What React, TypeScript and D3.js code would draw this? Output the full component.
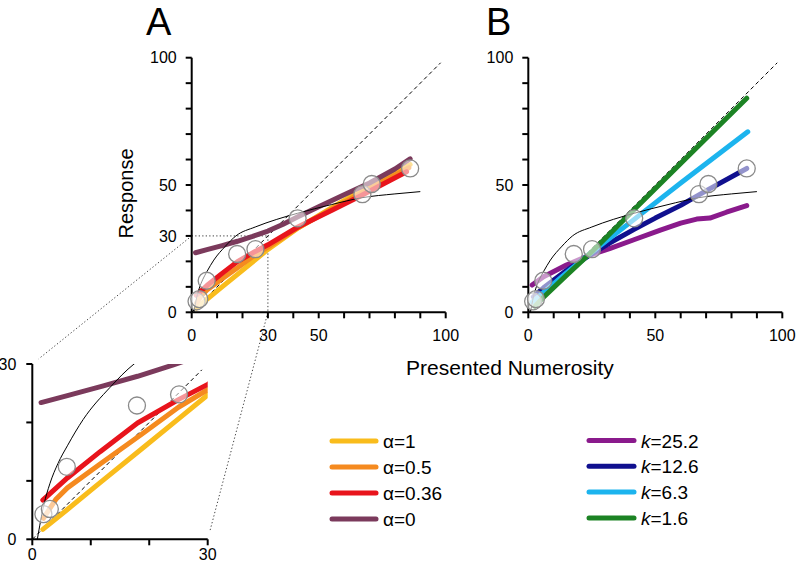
import React from 'react';
import * as d3 from 'd3';

// ---------- data ----------
const circleX = [1.9, 3.0, 5.9, 17.9, 25.1, 41.7, 67.2, 70.9, 86];
const circleY = [4.3, 5.2, 12.4, 22.9, 24.8, 36.9, 46.4, 50.4, 56.5];

const curveX = [0.86, 2, 3, 4.4, 6, 8.7, 13.3, 17.4, 25, 33.5, 41.7, 55, 67, 80, 90];
const curveY = [0, 6, 9.5, 13, 16, 20.5, 26, 30, 33.5, 36.5, 38.9, 42.3, 45, 46.5, 47.4];

const alpha1X = [1.8, 6, 11.6, 19, 25, 30, 42, 55, 67, 75, 86];
const alpha1Y = [1.7, 5.1, 9.7, 15.7, 20.6, 24.7, 33.2, 41, 48, 52.3, 58];
const alpha05X = [1.9, 4, 6, 11.6, 19, 25, 30, 42, 55, 67, 75, 85.5];
const alpha05Y = [3.6, 6.8, 8.8, 12.9, 18.2, 22.6, 25.6, 33.3, 40.5, 47, 51.2, 56.8];
const alpha036X = [1.8, 6, 11.6, 18, 25, 30, 42, 55, 67, 75, 84.6];
const alpha036Y = [6.7, 10.5, 15, 19.9, 23.9, 26.5, 33.6, 40, 46, 50.2, 55.2];
const alpha0X = [1.5, 6, 12, 18, 24, 30, 36, 42, 50, 60, 70, 80, 86];
const alpha0Y = [23.4, 24.6, 26.2, 27.9, 29.8, 31.9, 34.6, 37.6, 41.5, 46.2, 50.8, 56.3, 60.3];

const k252X = [1.5, 6, 15, 24.3, 32, 41.3, 52, 60, 66.3, 71.5, 78, 86];
const k252Y = [10.7, 14, 18.6, 22.5, 25, 28.4, 32.3, 35, 36.6, 37, 39.3, 41.9];
const k126X = [2, 6, 15, 24.3, 32, 41.3, 50, 60, 67, 71, 86];
const k126Y = [6.1, 9.6, 16.4, 22.5, 27.2, 32.4, 37, 42, 46, 48.3, 56.5];
const k63X = [1.5, 6, 15, 24.3, 41.3, 60, 86.4];
const k63Y = [4, 7.8, 15.5, 23.1, 36.2, 50.8, 70.9];
const k16X = [2.6, 6, 15, 24.3, 41.3, 60, 86];
const k16Y = [2.4, 5.9, 14.5, 23.1, 40, 58.5, 84.1];

const alphaLabels = ['1', '0.5', '0.36', '0'];
const alphaColors = ['#F9BC1C', '#F58A1F', '#E8141C', '#7B3A5C'];
const kLabels = ['25.2', '12.6', '6.3', '1.6'];
const kColors = ['#8A1A8C', '#10108F', '#1CB4EE', '#1C8324'];

const ticksMain = [0, 10, 20, 30, 40, 50, 60, 70, 80, 90, 100];
const labelsAY = [0, 30, 50, 100];
const labelsAX = [0, 30, 50, 100];
const labelsB = [0, 50, 100];
const ticksInset = [0, 10, 20, 30];
const labelsInset = [0, 30];

const FONT = "'Liberation Sans', Arial, Helvetica, sans-serif";

const zip = (xs: number[], ys: number[]) => xs.map((x, i) => [x, ys[i]] as [number, number]);

const alphaSeries = [
  zip(alpha1X, alpha1Y),
  zip(alpha05X, alpha05Y),
  zip(alpha036X, alpha036Y),
  zip(alpha0X, alpha0Y),
];
const kSeries = [
  zip(k252X, k252Y),
  zip(k126X, k126Y),
  zip(k63X, k63Y),
  zip(k16X, k16Y),
];
const curvePts = zip(curveX, curveY);
const circles = zip(circleX, circleY);

// ---------- scales ----------
const xA = d3.scaleLinear().domain([0, 100]).range([191.7, 445.7]);
const xB = d3.scaleLinear().domain([0, 100]).range([528.3, 782.3]);
const yM = d3.scaleLinear().domain([0, 100]).range([312.3, 57.7]);
const xI = d3.scaleLinear().domain([0, 30]).range([32.3, 207.7]);
const yI = d3.scaleLinear().domain([0, 30]).range([539.3, 364]);

type Sc = d3.ScaleLinear<number, number>;

function mkLine(x: Sc, y: Sc, smooth: boolean) {
  return d3
    .line<[number, number]>()
    .x((d) => x(d[0]))
    .y((d) => y(d[1]))
    .curve(smooth ? d3.curveMonotoneX : d3.curveLinear);
}

function Axes({ x, y, ticks, labX, labY, labBase, labGap, xmax }: any) {
  const x0 = x(0);
  const y0 = y(0);
  return (
    <g fontFamily={FONT} fontSize={16} fill="#000">
      <line x1={x0} x2={x0} y1={y0} y2={y(xmax)} stroke="#000" strokeWidth={2} />
      <line x1={x0} x2={x(xmax)} y1={y0} y2={y0} stroke="#000" strokeWidth={2} />
      {ticks.map((t: number) => (
        <line key={'tx' + t} x1={x(t)} x2={x(t)} y1={y0} y2={y0 + 6} stroke="#000" strokeWidth={2} />
      ))}
      {ticks.map((t: number) => (
        <line key={'ty' + t} x1={x0 - 6} x2={x0} y1={y(t)} y2={y(t)} stroke="#000" strokeWidth={2} />
      ))}
      {labX.map((t: number) => (
        <text key={'lx' + t} x={x(t)} y={labBase} textAnchor="middle">
          {t}
        </text>
      ))}
      {labY.map((t: number) => (
        <text key={'ly' + t} x={x0 - labGap} y={y(t) + 5.7} textAnchor="end">
          {t}
        </text>
      ))}
    </g>
  );
}

function Circles({ x, y, pts }: any) {
  return (
    <g>
      {pts.map((d: [number, number], i: number) => (
        <circle
          key={i}
          cx={x(d[0])}
          cy={y(d[1])}
          r={8.5}
          fill="rgba(255,255,255,0.55)"
          stroke="#8a8a8a"
          strokeWidth={1.3}
        />
      ))}
    </g>
  );
}

export default function App() {
  const lA = mkLine(xA, yM, false);
  const lB = mkLine(xB, yM, false);
  const lI = mkLine(xI, yI, false);
  const cA = mkLine(xA, yM, true);
  const cB = mkLine(xB, yM, true);
  const cI = mkLine(xI, yI, true);
  const insetPts = circles.filter((d) => d[0] <= 30 && d[1] <= 30);

  // zoom connector lines
  const c1s = [xA(0), yM(30)];
  const c1e = [xI(0), yI(30)];
  const c2s = [xA(30), yM(0)];
  const c2e = [xI(30), yI(0)];
  const shorten = (s: number[], e: number[], f: number) => [e[0] + (s[0] - e[0]) * f, e[1] + (s[1] - e[1]) * f];
  const c1eS = shorten(c1s, c1e, 0.04);
  const c2eS = shorten(c2s, c2e, 0.04);

  return (
    <svg
      width={796}
      height={568}
      style={{ position: 'absolute', left: 0, top: 0, background: '#fff' }}
      fontFamily={FONT}
    >
      <defs>
        <clipPath id="insetClip">
          <rect x={xI(0)} y={yI(30)} width={xI(30) - xI(0)} height={yI(0) - yI(30)} />
        </clipPath>
      </defs>
      <rect width={796} height={568} fill="#fff" />

      {/* panel letters */}
      <text x={146} y={35} fontSize={38}>A</text>
      <text x={486} y={35} fontSize={38}>B</text>

      {/* axis titles */}
      <text transform="translate(132.6,193.5) rotate(-90)" textAnchor="middle" fontSize={20}>
        Response
      </text>
      <text x={510} y={375} textAnchor="middle" fontSize={21}>
        Presented Numerosity
      </text>

      {/* dotted zoom guides */}
      <g stroke="#444" strokeWidth={1} strokeDasharray="1.3,2.2" fill="none">
        <line x1={xA(0)} y1={yM(30)} x2={xA(30)} y2={yM(30)} />
        <line x1={xA(30)} y1={yM(30)} x2={xA(30)} y2={yM(0)} />
        <line x1={c1s[0]} y1={c1s[1]} x2={c1eS[0]} y2={c1eS[1]} />
        <line x1={c2s[0]} y1={c2s[1]} x2={c2eS[0]} y2={c2eS[1]} />
      </g>

      {/* ===== Panel A ===== */}
      <Axes x={xA} y={yM} ticks={ticksMain} labX={labelsAX} labY={labelsAY} labBase={340.7} labGap={15} xmax={100} />
      <line x1={xA(0)} y1={yM(0)} x2={xA(98)} y2={yM(98)} stroke="#000" strokeWidth={1} strokeDasharray="4,3" />
      {alphaSeries.map((s, i) => (
        <path key={i} d={lA(s) || ''} fill="none" stroke={alphaColors[i]} strokeWidth={5} strokeLinecap="round" strokeLinejoin="round" />
      ))}
      <path d={cA(curvePts) || ''} fill="none" stroke="#000" strokeWidth={1} />
      <Circles x={xA} y={yM} pts={circles} />

      {/* ===== Panel B ===== */}
      <Axes x={xB} y={yM} ticks={ticksMain} labX={labelsB} labY={labelsB} labBase={340.7} labGap={15} xmax={100} />
      <line x1={xB(0)} y1={yM(0)} x2={xB(98)} y2={yM(98)} stroke="#000" strokeWidth={1} strokeDasharray="4,3" />
      {kSeries.map((s, i) => (
        <path key={i} d={lB(s) || ''} fill="none" stroke={kColors[i]} strokeWidth={5} strokeLinecap="round" strokeLinejoin="round" />
      ))}
      <path d={cB(curvePts) || ''} fill="none" stroke="#000" strokeWidth={1} />
      <Circles x={xB} y={yM} pts={circles} />

      {/* ===== Inset ===== */}
      <Axes x={xI} y={yI} ticks={ticksInset} labX={labelsInset} labY={labelsInset} labBase={560} labGap={16} xmax={30} />
      <g clipPath="url(#insetClip)">
        <line x1={xI(0)} y1={yI(0)} x2={xI(29)} y2={yI(29)} stroke="#000" strokeWidth={1} strokeDasharray="4,3" />
        {alphaSeries.map((s, i) => (
          <path key={i} d={lI(s) || ''} fill="none" stroke={alphaColors[i]} strokeWidth={5} strokeLinecap="round" strokeLinejoin="round" />
        ))}
        <path d={cI(curvePts) || ''} fill="none" stroke="#000" strokeWidth={1} />
      </g>
      <Circles x={xI} y={yI} pts={insetPts} />

      {/* ===== Legends ===== */}
      <g fontSize={19}>
        {alphaLabels.map((lab, i) => {
          const yy = 441 + i * 26;
          return (
            <g key={'la' + i}>
              <line x1={332} x2={376} y1={yy} y2={yy} stroke={alphaColors[i]} strokeWidth={5} strokeLinecap="round" />
              <text x={383} y={yy + 7}>
                {'α=' + lab}
              </text>
            </g>
          );
        })}
        {kLabels.map((lab, i) => {
          const yy = 440.5 + i * 25.8;
          return (
            <g key={'lk' + i}>
              <line x1={589} x2={634} y1={yy} y2={yy} stroke={kColors[i]} strokeWidth={5} strokeLinecap="round" />
              <text x={641} y={yy + 7}>
                <tspan fontStyle="italic">k</tspan>
                {'=' + lab}
              </text>
            </g>
          );
        })}
      </g>
    </svg>
  );
}
